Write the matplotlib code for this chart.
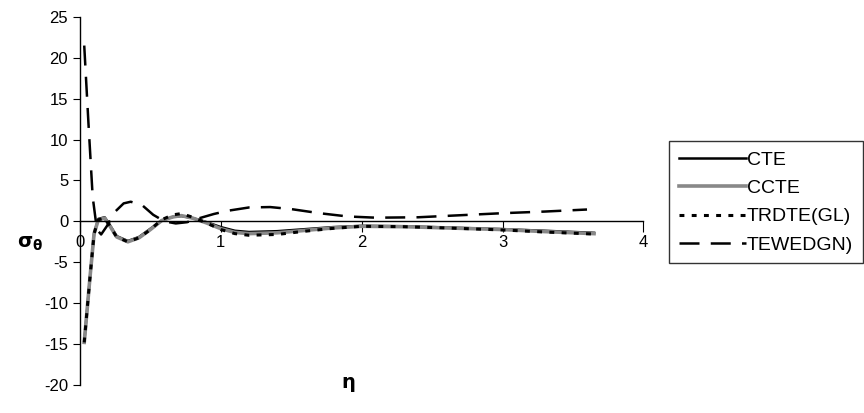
import matplotlib
matplotlib.use("Agg")
import matplotlib.pyplot as plt

plt.rcParams['font.family'] = ['Liberation Sans', 'DejaVu Sans']
plt.rcParams['axes.unicode_minus'] = False

cte_x = [0.03, 0.07, 0.10, 0.13, 0.175, 0.21, 0.26, 0.34, 0.42, 0.50, 0.58, 0.66, 0.72, 0.80,
         0.90, 1.00, 1.10, 1.20, 1.40, 1.60, 1.80, 2.00, 2.30, 2.60, 3.00, 3.30, 3.65]
cte_y = [-14.8, -7.0, -1.5, 0.3, 0.5, -0.4, -1.8, -2.4, -1.9, -0.9, 0.1, 0.55, 0.65, 0.4,
         -0.1, -0.7, -1.15, -1.3, -1.2, -0.95, -0.7, -0.55, -0.6, -0.75, -0.95, -1.15, -1.4]
ccte_y = [-14.8, -7.0, -1.5, 0.2, 0.4, -0.5, -1.9, -2.5, -2.0, -1.0, 0.1, 0.55, 0.7, 0.4,
          -0.2, -0.9, -1.35, -1.5, -1.4, -1.1, -0.8, -0.6, -0.65, -0.8, -1.0, -1.25, -1.5]
trdte_y = [-14.8, -7.0, -1.5, 0.2, 0.4, -0.5, -1.9, -2.5, -2.0, -1.0, 0.2, 0.8, 0.95, 0.5,
           -0.2, -1.0, -1.5, -1.7, -1.6, -1.2, -0.85, -0.6, -0.65, -0.8, -1.05, -1.3, -1.55]

tew_x = [0.03, 0.06, 0.09, 0.12, 0.15, 0.19, 0.25, 0.31, 0.36, 0.44, 0.52, 0.60, 0.68, 0.76,
         0.85, 0.95, 1.05, 1.20, 1.35, 1.50, 1.70, 1.90, 2.10, 2.40, 2.70, 3.00, 3.30, 3.60]
tew_y = [21.5, 12.0, 3.0, -1.0, -1.6, -0.6, 1.2, 2.2, 2.4, 2.0, 0.8, 0.0, -0.25, -0.1,
         0.4, 0.9, 1.3, 1.7, 1.75, 1.5, 1.0, 0.6, 0.45, 0.5, 0.75, 1.0, 1.2, 1.45]

fig = plt.figure(figsize=(8.64, 4.13), dpi=100)
ax = fig.add_axes([0.0926, 0.068, 0.652, 0.891])

ax.plot(cte_x, cte_y, color='black', lw=1.8, label='CTE')
ax.plot(cte_x, ccte_y, color='#888888', lw=2.6, label='CCTE')
ax.plot(cte_x, trdte_y, color='black', lw=2.2, ls=(0, (1.6, 2.4)), label='TRDTE(GL)')
ax.plot(tew_x, tew_y, color='black', lw=1.8, ls=(0, (8, 4.5)), label='TEWEDGN)')

ax.set_xlim(0, 4)
ax.set_ylim(-20, 25)
ax.set_xticks([0, 1, 2, 3, 4])
ax.set_yticks(range(-20, 30, 5))
ax.spines['top'].set_visible(False)
ax.spines['right'].set_visible(False)
ax.spines['bottom'].set_position(('data', 0))
ax.spines['bottom'].set_linewidth(1.0)
ax.spines['left'].set_linewidth(1.0)
ax.tick_params(axis='y', direction='out', length=5, labelsize=12)
ax.tick_params(axis='x', direction='out', length=8, labelsize=12, pad=2)

fig.text(0.035, 0.41, r'$\mathbf{\sigma_\theta}$', fontsize=14, ha='center', va='center')
fig.text(0.403, 0.07, r'$\mathbf{\eta}$', fontsize=14, ha='center', va='center')

leg = ax.legend(loc='center left', bbox_to_anchor=(1.046, 0.496), fontsize=14,
                frameon=True, fancybox=False, edgecolor='black', handlelength=3.45,
                handletextpad=0.05, labelspacing=0.55, borderpad=0.5, borderaxespad=0)
leg.get_frame().set_linewidth(1.0)

fig.savefig('out.png', dpi=100)
